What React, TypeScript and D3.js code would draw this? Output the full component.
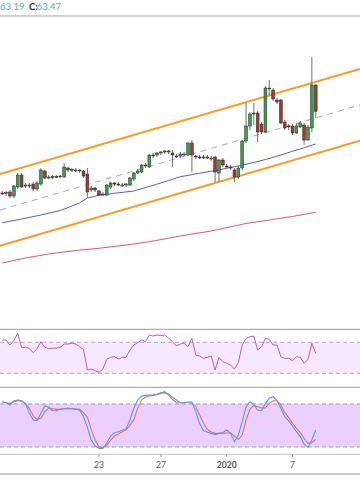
import React from 'react';
import * as d3 from 'd3';

const W = 360;
const H = 504;

// 4h candles (index 0..81)
const opens = [60.20,60.20,60.24,60.08,60.44,60.92,60.48,60.52,60.56,60.36,60.56,61.08,60.84,60.84,60.86,60.84,60.84,61.20,61.12,61.12,61.12,61.08,60.96,60.32,60.40,60.28,60.14,60.12,60.44,60.60,60.56,60.52,60.52,60.52,60.76,61.00,61.04,61.32,61.24,61.72,61.72,61.80,61.84,61.88,61.80,61.68,61.68,61.76,61.72,62.20,61.68,61.64,61.62,61.64,61.58,61.64,61.00,61.52,61.28,61.24,61.12,60.84,61.20,62.28,62.88,63.36,63.40,62.96,62.64,64.40,64.32,63.92,63.92,63.04,62.88,62.88,62.60,62.84,62.92,62.32,62.80,64.52];
const highs = [60.28,60.28,60.32,60.52,61.00,61.00,60.60,60.60,60.64,60.68,61.20,61.12,60.92,60.92,60.92,60.92,61.40,61.24,61.20,61.20,61.16,61.12,61.20,60.48,60.44,60.32,60.24,60.56,60.64,60.64,60.64,60.60,60.60,60.84,61.04,61.16,61.36,61.40,61.76,61.80,61.84,61.88,61.92,61.92,61.92,61.76,61.84,61.84,62.24,62.32,61.72,61.72,61.72,61.72,61.68,61.68,61.56,61.60,61.36,61.32,61.20,61.28,62.32,63.80,63.44,63.80,63.48,63.04,64.48,64.72,64.40,64.00,63.96,63.12,62.96,62.96,62.96,63.08,63.00,62.92,65.64,64.56];
const lows = [60.12,60.08,60.00,60.00,60.36,60.40,60.40,60.40,60.28,60.28,60.48,60.76,60.76,60.76,60.80,60.80,60.80,61.04,61.04,61.04,61.00,60.80,60.00,60.24,60.24,60.08,60.08,60.08,60.36,60.48,60.48,60.44,60.44,60.48,60.68,60.96,61.00,61.20,61.20,61.60,61.64,61.72,61.76,61.76,61.24,61.60,61.60,61.68,61.68,61.04,61.56,61.56,61.56,61.56,61.48,60.64,60.64,61.24,61.16,61.12,60.64,60.76,61.12,62.20,62.72,62.92,62.24,62.56,62.60,64.12,63.88,63.76,62.96,62.72,62.72,62.52,62.56,62.80,62.12,62.28,62.64,63.19];
const closes = [60.18,60.22,60.08,60.48,60.92,60.44,60.52,60.48,60.36,60.60,61.12,60.80,60.84,60.86,60.84,60.88,61.24,61.12,61.14,61.12,61.08,60.88,60.24,60.40,60.32,60.12,60.16,60.52,60.60,60.56,60.54,60.52,60.56,60.80,61.00,61.08,61.32,61.28,61.72,61.70,61.80,61.84,61.88,61.84,61.72,61.64,61.76,61.74,62.20,61.72,61.64,61.62,61.64,61.60,61.60,61.04,61.52,61.32,61.24,61.20,60.84,61.20,62.28,62.88,63.36,63.40,62.64,62.64,64.40,64.36,63.96,63.84,63.00,62.80,62.84,62.60,62.88,63.00,62.32,62.84,64.52,63.47];

// moving averages read at selected candles
const ma50Idx = [0,5,10,15,20,22,25,29,34,38,43,46,51,55,58,61,65,68,72,75,78,81];
const ma50Val = [59.01,59.16,59.32,59.50,59.80,60.00,60.11,60.19,60.28,60.46,60.70,60.85,60.99,61.10,61.19,61.28,61.42,61.54,61.72,61.87,62.01,62.16];
const ma200Idx = [0,6,12,19,25,32,38,46,54,60,63,69,75,81];
const ma200Val = [57.40,57.60,57.76,57.90,57.99,58.12,58.25,58.48,58.68,58.88,58.98,59.12,59.26,59.43];

// parallel channel anchors
const channelIdx = [0, 81];
const channelUpper = [60.98, 64.64];
const channelLower = [58.11, 61.77];

const rsi = [72.9,72.9,66.5,72.1,81.6,63.5,63.5,62.2,56.6,61.8,70.8,63.5,61.8,62.2,62.6,63.5,67.8,67.8,68.7,67.8,64.3,60.9,34.3,35.5,33.4,31.2,35.5,48.0,50.6,51.4,48.4,50.6,50.6,60.0,66.5,69.5,72.9,70.8,79.4,78.1,79.4,78.6,79.4,75.1,70.8,65.2,67.8,68.7,64.3,75.1,53.6,52.3,49.3,50.6,52.3,34.3,50.6,45.0,42.9,40.7,35.5,43.7,66.5,75.1,77.2,78.1,60.0,64.3,75.1,73.8,66.5,66.5,51.4,49.3,49.3,46.3,51.4,50.6,42.9,48.0,68.7,55.8];
const stochK = [82.7,81.8,78.5,84.6,85.5,84.6,80.9,66.9,57.6,56.7,66.9,77.2,75.3,70.6,70.6,72.5,73.4,73.9,73.4,72.5,71.6,62.3,47.4,29.7,21.3,18.1,18.1,25.1,35.3,39.9,41.3,43.2,45.5,57.6,73.9,85.5,91.1,92.0,92.5,92.5,93.9,95.8,97.2,92.5,86.5,81.8,81.8,81.8,82.7,82.7,69.3,53.0,42.7,40.9,39.0,37.2,39.0,39.9,43.7,39.0,27.4,36.7,55.3,76.2,83.2,78.5,71.6,70.6,80.9,87.9,90.2,84.6,73.9,62.3,56.7,49.3,41.3,34.4,24.1,19.5,29.7,43.7];
const stochD = [83.2,81.8,80.9,82.7,84.6,83.7,80.9,73.9,63.2,58.5,59.9,69.3,74.4,73.4,72.5,72.5,73.4,73.9,73.4,73.0,72.5,67.9,61.3,44.6,29.7,20.4,19.0,22.3,29.7,35.3,38.1,41.3,44.1,50.2,58.5,73.9,85.5,89.3,91.1,92.0,93.0,94.8,95.8,93.9,89.3,85.5,81.8,81.8,81.8,81.3,76.2,64.6,53.0,44.6,40.9,39.0,39.0,39.0,39.5,39.9,35.3,30.6,36.7,57.6,72.5,78.1,76.2,74.4,74.4,80.9,84.6,84.6,78.5,67.9,61.3,53.0,46.0,39.9,32.0,25.1,26.0,30.6];

const tickIdx = [25, 41, 58, 75];
const tickLabels = ['23', '27', '2020', '7'];

const FONT = "Lato, 'Open Sans', sans-serif";

export default function App() {
  const x = d3.scaleLinear().domain([0, 81]).range([2.25, 315.72]);
  const y = d3.scaleLinear().domain([56, 67]).range([298, 23]);
  const yR = d3.scaleLinear().domain([0, 100]).range([396.55, 319.05]);
  const yS = d3.scaleLinear().domain([0, 100]).range([461.3, 389.65]);

  const mainTop = 16.5, mainBot = 329;
  const rsiTop = 329.5, rsiBot = 387;
  const stTop = 387.5, stBot = 454;

  const extLine = (p0: number, p1: number) => {
    const i0 = channelIdx[0], i1 = channelIdx[1];
    const slope = (p1 - p0) / (i1 - i0);
    const iL = x.invert(0), iR = x.invert(W);
    return { x1: 0, y1: y(p0 + slope * (iL - i0)), x2: W, y2: y(p0 + slope * (iR - i0)) };
  };
  const up = extLine(channelUpper[0], channelUpper[1]);
  const lo = extLine(channelLower[0], channelLower[1]);
  const mid = extLine((channelUpper[0] + channelLower[0]) / 2, (channelUpper[1] + channelLower[1]) / 2);

  const maLine = d3.line<number>().x((_, k) => 0).y(() => 0);
  const ma50Path = d3.line<[number, number]>().x(d => x(d[0])).y(d => y(d[1]))(ma50Idx.map((i, k) => [i, ma50Val[k]]));
  const ma200Path = d3.line<[number, number]>().x(d => x(d[0])).y(d => y(d[1]))(ma200Idx.map((i, k) => [i, ma200Val[k]]));
  void maLine;

  const rsiPath = d3.line<number>().x((_, i) => x(i)).y(d => yR(d))(rsi);
  const kPath = d3.line<number>().x((_, i) => x(i)).y(d => yS(d))(stochK);
  const dPath = d3.line<number>().x((_, i) => x(i)).y(d => yS(d))(stochD);

  const bodyW = 2.8;

  return (
    <svg width={W} height={H} style={{ position: 'absolute', left: 0, top: 0, background: '#fff' }} fontFamily={FONT}>
      <defs>
        <clipPath id="cMain"><rect x={0} y={mainTop} width={W} height={mainBot - mainTop} /></clipPath>
        <clipPath id="cRsi"><rect x={0} y={rsiTop} width={W} height={rsiBot - rsiTop} /></clipPath>
        <clipPath id="cSt"><rect x={0} y={stTop} width={W} height={stBot - stTop} /></clipPath>
      </defs>
      <rect x={0} y={0} width={W} height={H} fill="#fff" />

      {/* header */}
      <text x={0} y={9.6} fontSize={9.6} fill="#4fb5a8">63.19</text>
      <text x={29} y={9.6} fontSize={9.6} fill="#2f2f2f" fontWeight="bold">C:</text>
      <text x={36.6} y={9.6} fontSize={9.6} fill="#4fb5a8">63.47</text>
      <line x1={0} x2={W} y1={16} y2={16} stroke="#a0a0a0" strokeWidth={1} />

      {/* main pane */}
      <g clipPath="url(#cMain)">
        <line {...up} stroke="#ff9a1f" strokeWidth={2} />
        <line {...lo} stroke="#ff9a1f" strokeWidth={2} />
        <line {...mid} stroke="#a8a8a8" strokeWidth={1} strokeDasharray="6,5" />
        <path d={ma200Path || ''} fill="none" stroke="#f4525a" strokeWidth={1} />
        <path d={ma50Path || ''} fill="none" stroke="#5a5ad8" strokeWidth={1} />
        {opens.map((o, i) => {
          const c = closes[i];
          const isUp = c >= o;
          const yt = y(Math.max(o, c));
          const yb = y(Math.min(o, c));
          const cx = x(i);
          return (
            <g key={i}>
              <line x1={cx} x2={cx} y1={y(highs[i])} y2={y(lows[i])} stroke="#707070" strokeWidth={1} />
              <rect x={cx - bodyW / 2} y={yt} width={bodyW} height={Math.max(1, yb - yt)}
                fill={isUp ? '#3aa24a' : '#a93434'} stroke="#262626" strokeWidth={0.5} />
            </g>
          );
        })}
      </g>
      <line x1={0} x2={W} y1={329.3} y2={329.3} stroke="#9a9a9a" strokeWidth={1} />

      {/* RSI pane */}
      <g clipPath="url(#cRsi)">
        <rect x={0} y={yR(70)} width={W} height={yR(30) - yR(70)} fill="#f5e8ff" />
        <line x1={0} x2={W} y1={yR(70)} y2={yR(70)} stroke="#b3a6bd" strokeWidth={1} strokeDasharray="4,3" />
        <line x1={0} x2={W} y1={yR(30)} y2={yR(30)} stroke="#b3a6bd" strokeWidth={1} strokeDasharray="4,3" />
        <path d={rsiPath || ''} fill="none" stroke="#b85ad6" strokeWidth={1} />
      </g>
      <line x1={0} x2={W} y1={387.3} y2={387.3} stroke="#9a9a9a" strokeWidth={1} />

      {/* Stochastic pane */}
      <g clipPath="url(#cSt)">
        <rect x={0} y={yS(80)} width={W} height={yS(20) - yS(80)} fill="#ebd0ff" />
        <line x1={0} x2={W} y1={yS(80)} y2={yS(80)} stroke="#a69aae" strokeWidth={1} strokeDasharray="4,3" />
        <line x1={0} x2={W} y1={yS(20)} y2={yS(20)} stroke="#a69aae" strokeWidth={1} strokeDasharray="4,3" />
        <path d={dPath || ''} fill="none" stroke="#f26d4f" strokeWidth={1.1} />
        <path d={kPath || ''} fill="none" stroke="#4a9cf6" strokeWidth={1.1} />
      </g>

      {/* time axis */}
      <line x1={0} x2={W} y1={454.3} y2={454.3} stroke="#c4c4c4" strokeWidth={1} />
      {tickIdx.map((ti, k) => (
        <g key={k}>
          <line x1={x(ti)} x2={x(ti)} y1={454.5} y2={457} stroke="#8a8a8a" strokeWidth={1} />
          <text x={x(ti)} y={468.3} fontSize={8.6} textAnchor="middle" fill="#555"
            fontWeight={tickLabels[k] === '2020' ? 'bold' : 'normal'}>{tickLabels[k]}</text>
        </g>
      ))}
      <line x1={0} x2={W} y1={474} y2={474} stroke="#9a9a9a" strokeWidth={1} />
    </svg>
  );
}
